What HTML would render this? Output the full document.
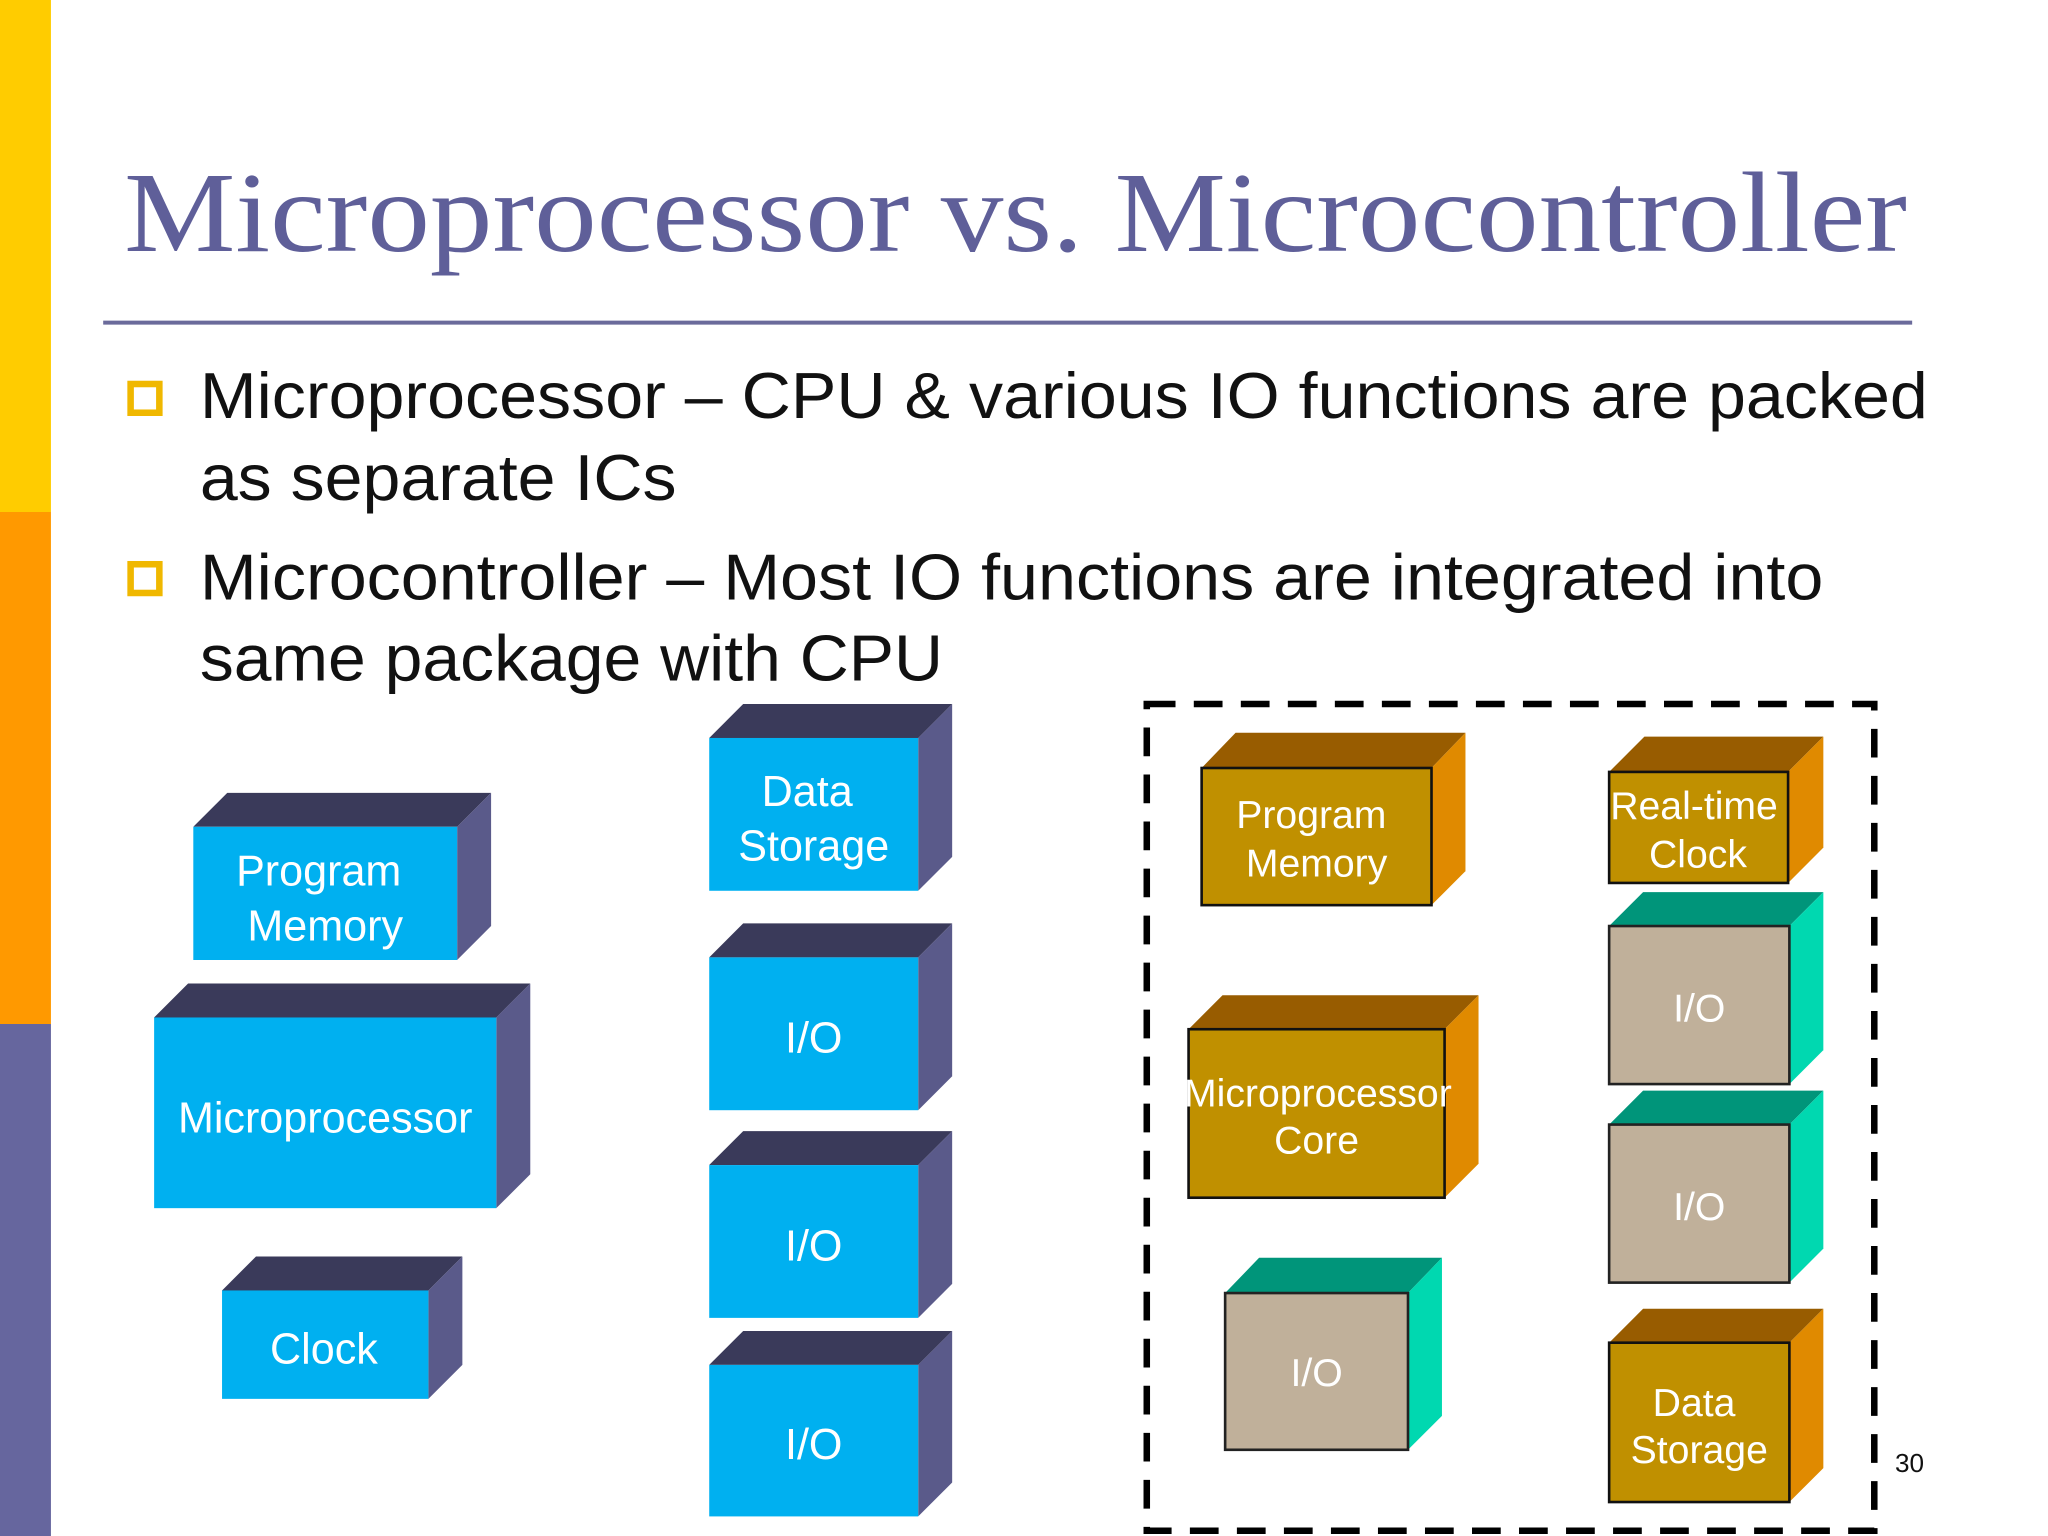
<!DOCTYPE html>
<html><head><meta charset="utf-8"><style>html,body{margin:0;padding:0;background:#fff}svg{display:block}</style></head>
<body>
<svg width="2048" height="1536" viewBox="0 0 1568 1176" xmlns="http://www.w3.org/2000/svg">
<rect width="1568" height="1176" fill="#fff"/>
<rect x="0" y="0" width="39" height="392" fill="#FFCC00"/>
<rect x="0" y="392" width="39" height="392" fill="#FF9900"/>
<rect x="0" y="784" width="39" height="392" fill="#66669E"/>
<text x="95" y="192" font-family="Liberation Serif, serif" font-size="88" fill="#5F5F99" textLength="1365" lengthAdjust="spacingAndGlyphs">Microprocessor vs. Microcontroller</text>
<line x1="79" y1="247" x2="1464" y2="247" stroke="#6B6B9B" stroke-width="3"/>
<rect x="100" y="294" width="22" height="22" fill="none" stroke="#F0B800" stroke-width="5"/>
<rect x="100" y="432" width="22" height="22" fill="none" stroke="#F0B800" stroke-width="5"/>
<g font-family="Liberation Sans, sans-serif" font-size="50" fill="#111">
<text x="153" y="320" textLength="1323" lengthAdjust="spacingAndGlyphs">Microprocessor – CPU &amp; various IO functions are packed</text>
<text x="153" y="383" textLength="365" lengthAdjust="spacingAndGlyphs">as separate ICs</text>
<text x="153" y="459" textLength="1243" lengthAdjust="spacingAndGlyphs">Microcontroller – Most IO functions are integrated into</text>
<text x="153" y="521" textLength="569" lengthAdjust="spacingAndGlyphs">same package with CPU</text>
</g>
<g font-family="Liberation Sans, sans-serif" font-size="33" fill="#fff" text-anchor="middle">
<polygon points="148,633 174,607 376,607 350,633" fill="#3A3A5A"/><polygon points="350,633 376,607 376,709 350,735" fill="#5A5A8A"/><rect x="148" y="633" width="202" height="102" fill="#00B0F0"/>
<text x="244" y="678">Program</text><text x="249" y="720">Memory</text>
<polygon points="118,779 144,753 406,753 380,779" fill="#3A3A5A"/><polygon points="380,779 406,753 406,899 380,925" fill="#5A5A8A"/><rect x="118" y="779" width="262" height="146" fill="#00B0F0"/>
<text x="249" y="867">Microprocessor</text>
<polygon points="170,988 196,962 354,962 328,988" fill="#3A3A5A"/><polygon points="328,988 354,962 354,1045 328,1071" fill="#5A5A8A"/><rect x="170" y="988" width="158" height="83" fill="#00B0F0"/>
<text x="248" y="1044">Clock</text>
<polygon points="543,565 569,539 729,539 703,565" fill="#3A3A5A"/><polygon points="703,565 729,539 729,656 703,682" fill="#5A5A8A"/><rect x="543" y="565" width="160" height="117" fill="#00B0F0"/>
<text x="618" y="617">Data</text><text x="623" y="659">Storage</text>
<polygon points="543,733 569,707 729,707 703,733" fill="#3A3A5A"/><polygon points="703,733 729,707 729,824 703,850" fill="#5A5A8A"/><rect x="543" y="733" width="160" height="117" fill="#00B0F0"/>
<text x="623" y="806">I/O</text>
<polygon points="543,892 569,866 729,866 703,892" fill="#3A3A5A"/><polygon points="703,892 729,866 729,983 703,1009" fill="#5A5A8A"/><rect x="543" y="892" width="160" height="117" fill="#00B0F0"/>
<text x="623" y="965">I/O</text>
<polygon points="543,1045 569,1019 729,1019 703,1045" fill="#3A3A5A"/><polygon points="703,1045 729,1019 729,1135 703,1161" fill="#5A5A8A"/><rect x="543" y="1045" width="160" height="116" fill="#00B0F0"/>
<text x="623" y="1117">I/O</text>
</g>
<rect x="878" y="539" width="557" height="633" fill="none" stroke="#000" stroke-width="5" stroke-dasharray="22 14"/>
<g font-family="Liberation Sans, sans-serif" font-size="30" fill="#fff" text-anchor="middle">
<polygon points="920,588 946,561 1122,561 1096,588" fill="#985C00"/><polygon points="1096,588 1122,561 1122,667 1096,693" fill="#E08A00"/><rect x="920" y="588" width="176" height="105" fill="#C09000" stroke="#111" stroke-width="2"/>
<text x="1004" y="634">Program</text><text x="1008" y="671">Memory</text>
<polygon points="1232,591 1259,564 1396,564 1369,591" fill="#985C00"/><polygon points="1369,591 1396,564 1396,649 1369,676" fill="#E08A00"/><rect x="1232" y="591" width="137" height="85" fill="#C09000" stroke="#111" stroke-width="2"/>
<text x="1297" y="627">Real-time</text><text x="1300" y="664">Clock</text>
<polygon points="910,788 936,762 1132,762 1106,788" fill="#985C00"/><polygon points="1106,788 1132,762 1132,891 1106,917" fill="#E08A00"/><rect x="910" y="788" width="196" height="129" fill="#C09000" stroke="#111" stroke-width="2"/>
<text x="1009" y="847">Microprocessor</text><text x="1008" y="883">Core</text>
<polygon points="1232,1028 1258,1002 1396,1002 1370,1028" fill="#985C00"/><polygon points="1370,1028 1396,1002 1396,1124 1370,1150" fill="#E08A00"/><rect x="1232" y="1028" width="138" height="122" fill="#C09000" stroke="#111" stroke-width="2"/>
<text x="1297" y="1084">Data</text><text x="1301" y="1120">Storage</text>
<polygon points="938,990 964,963 1104,963 1078,990" fill="#00957A"/><polygon points="1078,990 1104,963 1104,1084 1078,1110" fill="#00D8B0"/><rect x="938" y="990" width="140" height="120" fill="#C0B09A" stroke="#222" stroke-width="2"/>
<text x="1008" y="1061">I/O</text>
<polygon points="1232,709 1258,683 1396,683 1370,709" fill="#00957A"/><polygon points="1370,709 1396,683 1396,804 1370,830" fill="#00D8B0"/><rect x="1232" y="709" width="138" height="121" fill="#C0B09A" stroke="#222" stroke-width="2"/>
<text x="1301" y="782">I/O</text>
<polygon points="1232,861 1258,835 1396,835 1370,861" fill="#00957A"/><polygon points="1370,861 1396,835 1396,956 1370,982" fill="#00D8B0"/><rect x="1232" y="861" width="138" height="121" fill="#C0B09A" stroke="#222" stroke-width="2"/>
<text x="1301" y="934">I/O</text>
</g>
<text x="1462" y="1127" font-family="Liberation Sans, sans-serif" font-size="20" fill="#111" text-anchor="middle">30</text>
</svg>
</body></html>
